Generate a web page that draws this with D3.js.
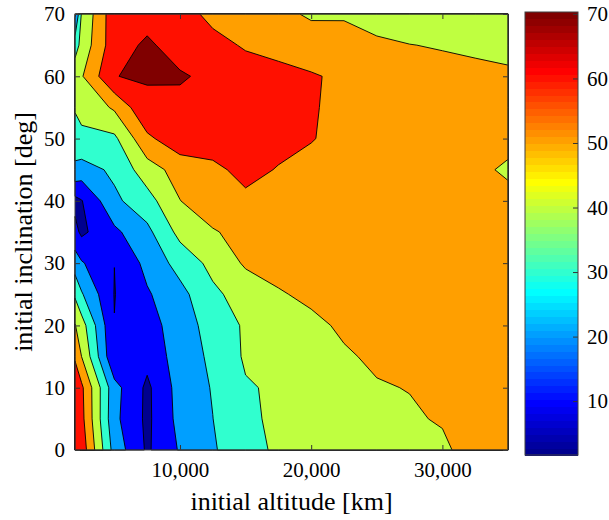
<!DOCTYPE html>
<html>
<head>
<meta charset="utf-8">
<script src="https://cdn.jsdelivr.net/npm/d3@7"></script>
<style>
  body { margin: 0; background: #fff; }
  text { font-family: "Liberation Serif", "Times New Roman", serif; }
</style>
</head>
<body>
<svg id="chart" width="609" height="520"></svg>
<script>
// grid of the contour plot: altitude columns, inclination rows
const altitudes = [2000, 2500, 5000, 7500, 10000, 12500, 15000, 17500, 20000, 22500, 25000, 27500, 30000, 32500, 35000];
const inclinations = [0, 5, 10, 15, 20, 25, 30, 35, 40, 45, 50, 55, 60, 65, 70];

// one list per inclination row
const inc0  = [67, 66, 26, 8.5, 21, 29.5, 33, 43.2, 44.2, 45.2, 46.1, 47, 48, 54.8, 55];
const inc5  = [65, 63, 22.5, 7.9, 23.2, 29.9, 38.5, 41.5, 43.5, 45.5, 47.2, 48.8, 50.9, 52.5, 52.5];
const inc10 = [63, 62, 23.4, 8, 24, 30.6, 39.1, 41.4, 43.7, 46, 49.3, 50.3, 52, 52.5, 52];
const inc15 = [59.5, 50, 11, 13, 24.8, 31.9, 41.3, 43.8, 46.4, 48.9, 51.5, 52.5, 53, 53, 52.5];
const inc20 = [50.5, 44.5, 10.2, 16, 24.9, 34.1, 41.3, 44.5, 47.8, 51.5, 53, 53.5, 53.5, 53, 52.5];
const inc25 = [38.5, 31, 9.7, 18.9, 26.9, 38, 44.2, 49.1, 52, 53.5, 54, 54, 53.5, 53, 52.5];
const inc30 = [25, 21, 10.05, 22.9, 33.7, 42.8, 51.3, 53.5, 54.5, 55, 55, 54.5, 54, 53.5, 53];
const inc35 = [13, 8, 17.9, 27.5, 43, 49, 53.9, 55.5, 56, 55.5, 55, 54.5, 53.5, 53, 52.5];
const inc40 = [7, 9.5, 28, 36, 49.8, 57, 58, 57.5, 56.5, 55.5, 55, 54, 53, 52.5, 51.9];
const inc45 = [28, 25.7, 32, 45.5, 54, 57.8, 62.8, 59.45, 57, 56, 55, 54, 53, 51.5, 49];
const inc50 = [35, 38.5, 38, 58, 66.4, 65, 64, 63, 60.5, 57, 56, 55, 54, 53, 52];
const inc55 = [41, 42, 51.5, 68.5, 67.4, 65.5, 64, 63, 61, 57, 56, 55, 54, 53, 52.5];
const inc60 = [47, 49.1, 69.9, 70.6, 71, 67.9, 64.5, 62.8, 60.65, 58.7, 57, 55, 53.2, 52.1, 51.4];
const inc65 = [35, 43.3, 66, 71.5, 66, 63, 59, 57, 56, 54, 52.5, 50.2, 49.3, 48.5, 47.5];
const inc70 = [18, 41, 66.5, 66.5, 64, 57.4, 55, 53, 48.4, 48.9, 44, 44, 43, 42, 41];

const levels = [10, 20, 30, 40, 50, 60, 70];
const colorLimits = [1.65, 70.3];
const xTickValues = [10000, 20000, 30000];
const yTickValues = [0, 10, 20, 30, 40, 50, 60, 70];
const cbarTickValues = [10, 20, 30, 40, 50, 60, 70];

const rows = [inc0, inc5, inc10, inc15, inc20, inc25, inc30, inc35, inc40, inc45, inc50, inc55, inc60, inc65, inc70];

// matlab jet(64), i = 1..64
function jet(i) {
  const u = k => k < 1 ? 0 : k <= 16 ? k / 16 : k <= 31 ? 1 : k <= 47 ? (48 - k) / 16 : 0;
  return d3.rgb(u(i - 24) * 255, u(i - 8) * 255, u(i + 8) * 255).formatHex();
}
function colorOf(v) {
  let i = Math.floor((v - colorLimits[0]) / (colorLimits[1] - colorLimits[0]) * 64) + 1;
  return jet(Math.max(1, Math.min(64, i)));
}

const svg = d3.select('#chart');
const plotLeft = 75, plotRight = 508, plotTop = 14, plotBottom = 450;

const x = d3.scaleLinear().domain([2000, 35000]).range([plotLeft, plotRight]);
const y = d3.scaleLinear().domain([0, 70]).range([plotBottom, plotTop]);

// lowest band
svg.append('rect')
  .attr('x', plotLeft).attr('y', plotTop)
  .attr('width', plotRight - plotLeft).attr('height', plotBottom - plotTop)
  .attr('fill', colorOf(colorLimits[0]));

// contour index space -> data (grid samples sit at i + 0.5)
function toData(arr, s) {
  s = Math.max(0, Math.min(arr.length - 1, s - 0.5));
  const i = Math.min(Math.floor(s), arr.length - 2);
  return arr[i] + (arr[i + 1] - arr[i]) * (s - i);
}
const proj = d3.geoTransform({
  point: function(px, py) {
    this.stream.point(x(toData(altitudes, px)), y(toData(inclinations, py)));
  }
});
const path = d3.geoPath(proj);

const contours = d3.contours()
  .size([altitudes.length, inclinations.length])
  .thresholds(levels)(rows.flat());

svg.append('g')
  .selectAll('path')
  .data(contours)
  .join('path')
  .attr('d', path)
  .attr('fill', d => colorOf(d.value))
  .attr('fill-rule', 'evenodd')
  .attr('stroke', '#000')
  .attr('stroke-width', 0.9)
  .attr('stroke-linejoin', 'round');

// axes
function styleAxis(g) {
  g.select('.domain').remove();
  g.attr('font-family', '"Liberation Serif", serif').attr('font-size', 21).attr('color', '#000');
  g.selectAll('.tick line').attr('stroke', '#333');
}

svg.append('g')
  .attr('transform', `translate(${plotLeft},0)`)
  .call(d3.axisLeft(y).tickValues(yTickValues).tickSize(-5).tickSizeOuter(0).tickPadding(10))
  .call(styleAxis);

svg.append('g')
  .attr('transform', `translate(${plotRight},0)`)
  .call(d3.axisRight(y).tickValues(yTickValues).tickSize(-5).tickSizeOuter(0).tickFormat(''))
  .call(styleAxis);

svg.append('g')
  .attr('transform', `translate(0,${plotBottom})`)
  .call(d3.axisBottom(x).tickValues(xTickValues).tickSize(-5).tickSizeOuter(0).tickPadding(12).tickFormat(d3.format(',')))
  .call(styleAxis);

svg.append('g')
  .attr('transform', `translate(0,${plotTop})`)
  .call(d3.axisTop(x).tickValues(xTickValues).tickSize(-5).tickSizeOuter(0).tickFormat(''))
  .call(styleAxis);

svg.append('rect')
  .attr('x', plotLeft).attr('y', plotTop)
  .attr('width', plotRight - plotLeft).attr('height', plotBottom - plotTop)
  .attr('fill', 'none').attr('stroke', '#404040').attr('stroke-width', 1);

// titles
svg.append('text')
  .attr('x', (plotLeft + plotRight) / 2).attr('y', 510)
  .attr('text-anchor', 'middle')
  .attr('font-size', 26)
  .text('initial altitude [km]');

svg.append('text')
  .attr('transform', `translate(32,${(plotTop + plotBottom) / 2}) rotate(-90)`)
  .attr('text-anchor', 'middle')
  .attr('font-size', 26)
  .text('initial inclination [deg]');

// colorbar
const cbLeft = 525, cbRight = 578, cbTop = 12, cbBottom = 455;
const cb = d3.scaleLinear().domain(colorLimits).range([cbBottom, cbTop]);
const step = (colorLimits[1] - colorLimits[0]) / 64;

svg.append('g')
  .selectAll('rect')
  .data(d3.range(64))
  .join('rect')
  .attr('x', cbLeft)
  .attr('width', cbRight - cbLeft)
  .attr('y', i => cb(colorLimits[0] + (i + 1) * step))
  .attr('height', i => cb(colorLimits[0] + i * step) - cb(colorLimits[0] + (i + 1) * step) + 0.5)
  .attr('fill', i => jet(i + 1))
  .attr('shape-rendering', 'crispEdges');

svg.append('g')
  .attr('transform', `translate(${cbRight},0)`)
  .call(d3.axisRight(cb).tickValues(cbarTickValues).tickSize(-5).tickSizeOuter(0).tickPadding(9))
  .call(styleAxis);

svg.append('rect')
  .attr('x', cbLeft).attr('y', cbTop)
  .attr('width', cbRight - cbLeft).attr('height', cbBottom - cbTop)
  .attr('fill', 'none').attr('stroke', '#404040').attr('stroke-width', 1);
</script>
</body>
</html>
